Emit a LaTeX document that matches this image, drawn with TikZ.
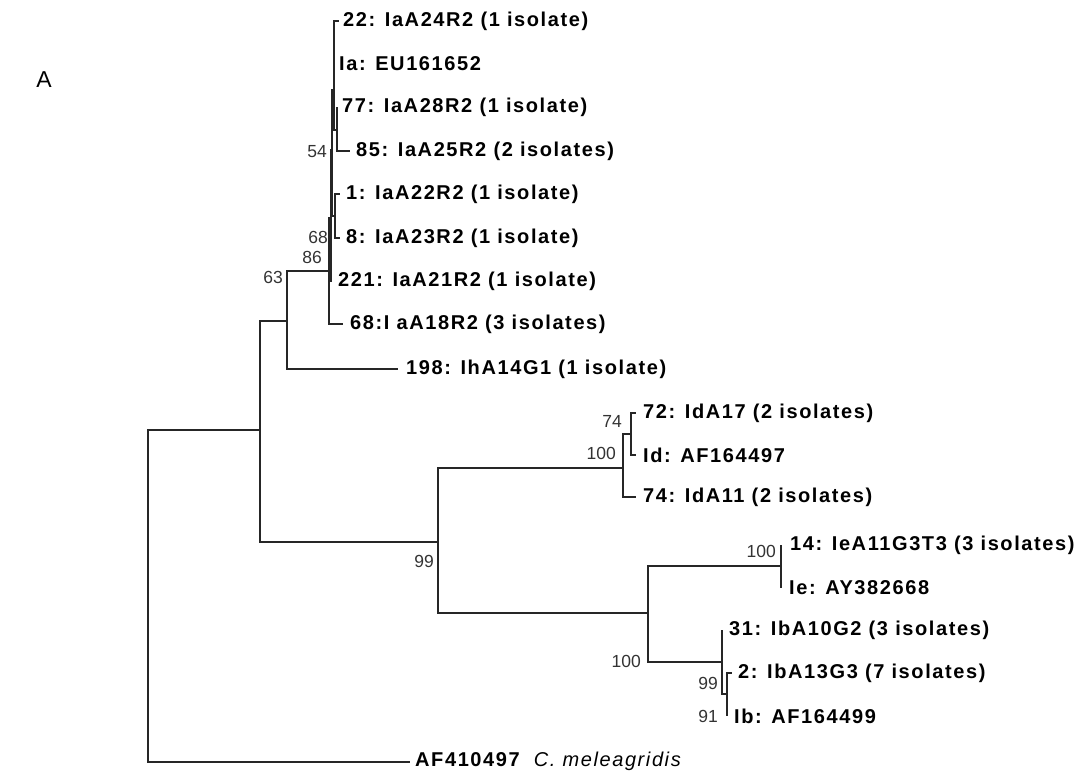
\documentclass[tikz,border=0pt]{standalone}
\usepackage{fontspec}
\setmainfont{Liberation Sans}
\newfontfamily\leaffont{Liberation Sans}[LetterSpace=8.0]
\begin{document}
\begin{tikzpicture}[x=1pt,y=-1pt,
  edge/.style={line width=1.3pt, black!85},
  leaf/.style={anchor=west, inner sep=0pt, font=\leaffont\fontsize{20}{20}\selectfont\bfseries},
  boot/.style={anchor=east, inner sep=0pt, font=\fontsize{17.5}{17.5}\selectfont, text=black!80}]
\useasboundingbox (0,0) rectangle (1092,777);
\node[anchor=center, inner sep=0pt, font=\fontsize{23}{23}\selectfont] (panel) at (44,80) {A};
% internal nodes
\coordinate (R) at (148,596);
\coordinate (Nin) at (260,430);
\coordinate (N63) at (287,321);
\coordinate (N86) at (329,271);
\coordinate (N68) at (331,218);
\coordinate (Nup) at (332,150);
\coordinate (N54) at (334,90);
\coordinate (N77) at (337,130);
\coordinate (N18) at (335,216);
\coordinate (N99) at (438,542);
\coordinate (Nd) at (623,468);
\coordinate (N74) at (631,434);
\coordinate (Nb100) at (648,613);
\coordinate (Nie) at (781,566);
\coordinate (Nib) at (722,662);
\coordinate (N91) at (727,694);
% tips
\coordinate (t22) at (339,21);
\coordinate (tIa) at (334,64);
\coordinate (t77) at (337,107);
\coordinate (t85) at (350,151);
\coordinate (t1) at (340,194);
\coordinate (t8) at (340,238);
\coordinate (t221) at (332,281);
\coordinate (t68) at (343,324);
\coordinate (t198) at (398,369);
\coordinate (t72) at (636,413);
\coordinate (tId) at (636,455);
\coordinate (t74) at (636,497);
\coordinate (t14) at (781,545);
\coordinate (tIe) at (781,588);
\coordinate (t31) at (722,630);
\coordinate (t2) at (732,673);
\coordinate (tIb) at (727,716);
\coordinate (tAF) at (410,762);
% edges
\draw[edge] (R) |- (Nin);
\draw[edge] (R) |- (tAF);
\draw[edge] (Nin) |- (N63);
\draw[edge] (Nin) |- (N99);
\draw[edge] (N63) |- (N86);
\draw[edge] (N63) |- (t198);
\draw[edge] (N86) |- (N68);
\draw[edge] (N86) |- (t68);
\draw[edge] (N68) |- (Nup);
\draw[edge] (N68) |- (t221);
\draw[edge] (Nup) |- (N54);
\draw[edge] (Nup) |- (N18);
\draw[edge] (N54) |- (t22);
\draw[edge] (N54) |- (tIa);
\draw[edge] (N54) |- (N77);
\draw[edge] (N77) |- (t77);
\draw[edge] (N77) |- (t85);
\draw[edge] (N18) |- (t1);
\draw[edge] (N18) |- (t8);
\draw[edge] (N99) |- (Nd);
\draw[edge] (N99) |- (Nb100);
\draw[edge] (Nd) |- (N74);
\draw[edge] (Nd) |- (t74);
\draw[edge] (N74) |- (t72);
\draw[edge] (N74) |- (tId);
\draw[edge] (Nb100) |- (Nie);
\draw[edge] (Nb100) |- (Nib);
\draw[edge] (Nie) |- (t14);
\draw[edge] (Nie) |- (tIe);
\draw[edge] (Nib) |- (t31);
\draw[edge] (Nib) |- (N91);
\draw[edge] (N91) |- (t2);
\draw[edge] (N91) |- (tIb);
% leaf labels
\node[leaf] (L22) at ([xshift=4pt]t22) {22: IaA24R2 (1 isolate)};
\node[leaf] (LIa) at ([xshift=5pt]tIa) {Ia: EU161652};
\node[leaf] (L77) at ([xshift=5pt]t77) {77: IaA28R2 (1 isolate)};
\node[leaf] (L85) at ([xshift=6pt]t85) {85: IaA25R2 (2 isolates)};
\node[leaf] (L1) at ([xshift=6pt]t1) {1: IaA22R2 (1 isolate)};
\node[leaf] (L8) at ([xshift=6pt]t8) {8: IaA23R2 (1 isolate)};
\node[leaf] (L221) at ([xshift=6pt]t221) {221: IaA21R2 (1 isolate)};
\node[leaf] (L68) at ([xshift=7pt]t68) {68:I aA18R2 (3 isolates)};
\node[leaf] (L198) at ([xshift=8pt]t198) {198: IhA14G1 (1 isolate)};
\node[leaf] (L72) at ([xshift=7pt]t72) {72: IdA17 (2 isolates)};
\node[leaf] (LId) at ([xshift=7pt]tId) {Id: AF164497};
\node[leaf] (L74) at ([xshift=7pt]t74) {74: IdA11 (2 isolates)};
\node[leaf] (L14) at ([xshift=9pt]t14) {14: IeA11G3T3 (3 isolates)};
\node[leaf] (LIe) at ([xshift=8pt]tIe) {Ie: AY382668};
\node[leaf] (L31) at ([xshift=7pt]t31) {31: IbA10G2 (3 isolates)};
\node[leaf] (L2) at ([xshift=6pt]t2) {2: IbA13G3 (7 isolates)};
\node[leaf] (LIb) at ([xshift=7pt]tIb) {Ib: AF164499};
\node[leaf] (LAF) at ([xshift=5pt,yshift=1pt]tAF) {AF410497\hspace{14pt}{\mdseries\itshape C. meleagridis}};
% bootstrap values
\node[boot] (b54) at (327,152) {54};
\node[boot] (b68) at (328,237) {68};
\node[boot] (b86) at (322,257) {86};
\node[boot] (b63) at (283,277) {63};
\node[boot] (b74) at (622,421) {74};
\node[boot] (b100d) at (616,453) {100};
\node[boot] (b99) at (434,561) {99};
\node[boot] (b100e) at (776,551) {100};
\node[boot] (b100b) at (641,661) {100};
\node[boot] (b99b) at (718,683) {99};
\node[boot] (b91) at (718,716) {91};
\end{tikzpicture}
\end{document}
